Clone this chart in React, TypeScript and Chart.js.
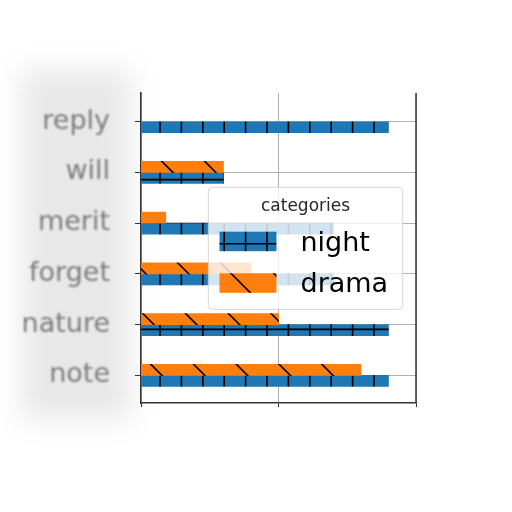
import React, { useEffect, useRef } from "react";
import { Chart, registerables } from "chart.js";
Chart.register(...registerables);

const categories = ["reply", "will", "merit", "forget", "nature", "note"];
const nightValues = [9, 3, 7, 7, 9, 9];
const dramaValues = [0, 3, 0.9, 4, 5, 8];
const seriesNames = ["night", "drama"];
const seriesColors = ["#1f77b4", "#ff7f0e"];
const xTicks = [0, 5, 10];
const legendTitle = "categories";

function makePlusPattern(color: string) {
  const P = 21.4;
  const N = 5;
  const S = P * N;
  const c = document.createElement("canvas");
  c.width = S;
  c.height = S;
  const g = c.getContext("2d")!;
  g.fillStyle = color;
  g.fillRect(0, 0, S, S);
  g.strokeStyle = "#000";
  g.lineWidth = 1.6;
  g.beginPath();
  for (let k = 0; k < N; k++) {
    const x = 10.2 + k * P;
    g.moveTo(x, 0);
    g.lineTo(x, S);
    const y = 8.4 + k * P;
    g.moveTo(0, y);
    g.lineTo(S, y);
  }
  g.stroke();
  return g.createPattern(c, "repeat")!;
}

function makeDiagPattern(color: string) {
  const P = 42.8;
  const S = 214;
  const c = document.createElement("canvas");
  c.width = S;
  c.height = S;
  const g = c.getContext("2d")!;
  g.fillStyle = color;
  g.fillRect(0, 0, S, S);
  g.strokeStyle = "#000";
  g.lineWidth = 1.6;
  g.beginPath();
  for (let k = -7; k <= 7; k++) {
    const c0 = 0.5 + k * P;
    g.moveTo(c0 - 10, -10);
    g.lineTo(c0 + S + 10, S + 10);
  }
  g.stroke();
  return g.createPattern(c, "repeat")!;
}

export default function App() {
  const ref = useRef<HTMLCanvasElement | null>(null);

  useEffect(() => {
    const canvas = ref.current;
    if (!canvas) return;
    const nightPattern = makePlusPattern(seriesColors[0]);
    const dramaPattern = makeDiagPattern(seriesColors[1]);
    const patterns = [nightPattern, dramaPattern];

    const hazePlugin = {
      id: "haze",
      beforeDraw(chart: any) {
        const ctx = chart.ctx;
        ctx.save();
        ctx.filter = "blur(14px)";
        ctx.fillStyle = "rgba(0,0,0,0.09)";
        ctx.fillRect(22, 70, 108, 350);
        ctx.restore();
      },
    };

    const spinePlugin = {
      id: "spine",
      afterDatasetsDraw(chart: any) {
        const ctx = chart.ctx;
        const a = chart.chartArea;
        ctx.save();
        ctx.strokeStyle = "#333";
        ctx.lineWidth = 1.5;
        ctx.beginPath();
        ctx.moveTo(a.right, a.top);
        ctx.lineTo(a.right, a.bottom);
        ctx.stroke();
        ctx.restore();
        // blur the y tick labels that are drawn next (ticks.z = 1)
        ctx.filter = "blur(1.2px)";
      },
    };

    const legendPlugin = {
      id: "customLegend",
      afterDraw(chart: any) {
        const ctx = chart.ctx;
        ctx.filter = "none";
        const a = chart.chartArea;
        const bx = a.left + 67.3;
        const by = a.top + 94.3;
        const bw = 194.4;
        const bh = 122;
        ctx.save();
        ctx.beginPath();
        ctx.roundRect(bx, by, bw, bh, 4);
        ctx.fillStyle = "rgba(255,255,255,0.8)";
        ctx.fill();
        ctx.strokeStyle = "rgba(204,204,204,0.8)";
        ctx.lineWidth = 1;
        ctx.stroke();

        ctx.fillStyle = "#262626";
        ctx.font = "17px 'DejaVu Sans'";
        ctx.textAlign = "center";
        ctx.textBaseline = "alphabetic";
        ctx.fillText(legendTitle, bx + bw / 2, by + 23.7);

        seriesNames.forEach((name, i) => {
          const ry = by + 44.4 + i * 41.6;
          ctx.fillStyle = patterns[i];
          ctx.fillRect(bx + 11.2, ry, 57, 19.5);
          ctx.fillStyle = "#000";
          ctx.font = "27px 'DejaVu Sans'";
          ctx.textAlign = "left";
          ctx.fillText(name, bx + 92.2, ry + 18.8);
        });
        ctx.restore();
      },
    };

    const chart = new Chart(canvas, {
      type: "bar",
      data: {
        datasets: [
          {
            label: seriesNames[1],
            data: dramaValues.map((v, i) => ({ x: v, y: i })),
            backgroundColor: dramaPattern,
            borderWidth: 0,
            barThickness: 11,
          },
          {
            label: seriesNames[0],
            data: nightValues.map((v, i) => ({ x: v, y: i })),
            backgroundColor: nightPattern,
            borderWidth: 0,
            barThickness: 11,
          },
        ],
      } as any,
      options: {
        indexAxis: "y",
        animation: false,
        responsive: false,
        layout: { padding: { left: 0, right: 96, top: 93, bottom: 99 } },
        plugins: {
          legend: { display: false },
          tooltip: { enabled: false },
          title: { display: false },
        },
        scales: {
          x: {
            type: "linear",
            min: 0,
            max: 10,
            afterBuildTicks: (s: any) => {
              s.ticks = xTicks.map((v) => ({ value: v }));
            },
            ticks: { display: false },
            grid: { color: "#b0b0b0", lineWidth: 1, tickLength: 4, tickColor: "#333" },
            border: { color: "#333", width: 1.5 },
            afterFit: (s: any) => {
              s.height = 10;
            },
          },
          y: {
            type: "linear",
            reverse: true,
            min: -0.566,
            max: 5.546,
            offset: false,
            afterBuildTicks: (s: any) => {
              s.ticks = categories.map((_, i) => ({ value: i }));
            },
            ticks: {
              autoSkip: false,
              callback: (v: any) => categories[v],
              font: { family: "'DejaVu Sans'", size: 27 },
              color: "#7a7a7a",
              padding: 25,
              z: 1,
            },
            grid: { offset: false, color: "#b0b0b0", lineWidth: 1, tickLength: 6, tickColor: "#333" },
            border: { color: "#333", width: 1.5 },
            afterFit: (s: any) => {
              s.width = 141;
            },
          },
        },
      } as any,
      plugins: [hazePlugin, spinePlugin, legendPlugin],
    });
    return () => chart.destroy();
  }, []);

  return (
    <div style={{ position: "fixed", left: 0, top: 0, width: 512, height: 512 }}>
      <canvas ref={ref} width={512} height={512} style={{ width: 512, height: 512 }} />
    </div>
  );
}
